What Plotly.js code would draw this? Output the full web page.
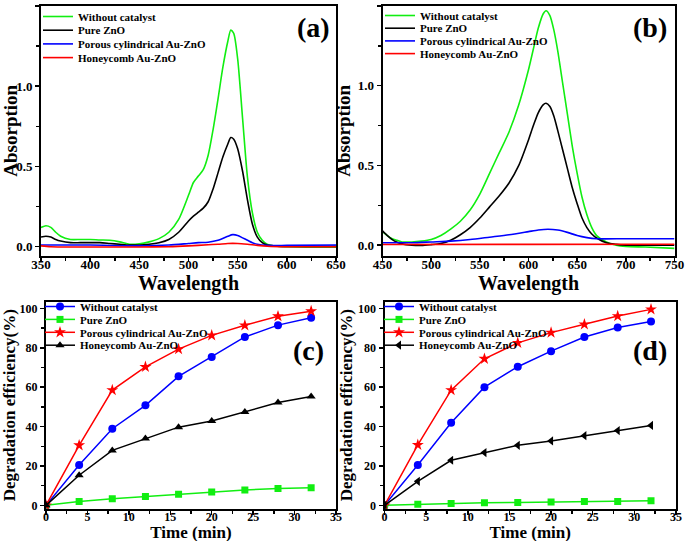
<!DOCTYPE html>
<html>
<head>
<meta charset="utf-8">
<script src="https://cdn.plot.ly/plotly-3.0.1.min.js"></script>
<style>html,body{margin:0;padding:0;background:#fff}#chart{width:685px;height:541px}</style>
</head>
<body>
<div id="chart"></div>
<script>
// ---------- Data ----------
const seriesNames = ["Without catalyst", "Pure ZnO", "Porous cylindrical Au-ZnO", "Honeycomb Au-ZnO"];

// Panel (a): absorption spectra
const wlA = [350,355,360,365,370,380,390,400,410,420,430,440,450,460,470,480,490,500,505,510,515,520,525,530,535,540,543,546,550,555,560,565,570,575,580,590,600,620,650];
const greenA = [0.12,0.13,0.12,0.09,0.065,0.045,0.045,0.045,0.042,0.04,0.03,0.015,0.018,0.03,0.05,0.09,0.17,0.32,0.40,0.44,0.48,0.57,0.73,0.92,1.12,1.28,1.35,1.33,1.17,0.80,0.43,0.21,0.09,0.04,0.015,0.003,0.0,-0.003,-0.003];
const blackA = [0.06,0.065,0.06,0.045,0.035,0.025,0.025,0.025,0.025,0.02,0.015,0.01,0.01,0.015,0.025,0.045,0.09,0.16,0.19,0.215,0.24,0.28,0.36,0.46,0.56,0.64,0.68,0.67,0.61,0.47,0.29,0.14,0.06,0.025,0.01,0.003,0.002,0.002,0.002];
const wlA2 = [350,400,450,480,500,510,520,530,540,545,550,555,560,565,570,580,600,650];
const blueA = [0.01,0.01,0.005,0.01,0.02,0.025,0.028,0.04,0.065,0.075,0.07,0.055,0.04,0.025,0.015,0.008,0.008,0.01];
const wlA3 = [350,360,400,450,480,500,520,530,540,550,560,570,580,600,650];
const redA = [0.005,0.0,-0.002,-0.002,0.0,0.005,0.012,0.015,0.02,0.02,0.015,0.008,0.003,0.0,0.0];

// Panel (b): absorption spectra
const wlB = [450,455,460,465,470,480,490,500,510,520,530,540,550,560,570,580,590,600,605,610,615,618,622,626,630,635,640,645,650,655,660,665,670,680,690,700,720,750];
const greenB = [0.085,0.06,0.04,0.03,0.02,0.02,0.025,0.035,0.06,0.10,0.15,0.22,0.32,0.45,0.58,0.71,0.88,1.10,1.23,1.36,1.45,1.47,1.44,1.35,1.22,1.02,0.82,0.62,0.45,0.30,0.19,0.11,0.06,0.02,0.0,-0.008,-0.012,-0.02];
const blackB = [0.09,0.06,0.035,0.018,0.008,0.0,-0.002,0.003,0.01,0.03,0.065,0.11,0.17,0.24,0.31,0.39,0.50,0.66,0.75,0.83,0.88,0.89,0.87,0.81,0.72,0.60,0.48,0.36,0.26,0.17,0.11,0.07,0.045,0.015,0.005,0.0,0.0,0.0];
const wlB2 = [450,480,500,520,540,560,580,600,610,620,630,640,650,660,670,700,750];
const blueB = [0.015,0.015,0.02,0.025,0.035,0.05,0.065,0.085,0.095,0.1,0.095,0.08,0.06,0.047,0.04,0.04,0.04];
const wlB3 = [450,600,750];
const redB = [0.004,0.005,0.006];

// Panels (c) and (d): degradation efficiency vs time
const timeMin = [0,4,8,12,16,20,24,28,32];
const blueC  = [0,20.5,38.9,50.8,65.5,75.3,85.5,91.5,95.2];
const greenC = [0,2.0,3.3,4.5,5.6,6.8,7.8,8.5,9.0];
const redC   = [0,30.5,58.5,70.3,79.3,86.3,91.4,96.0,98.6];
const blackC = [0,15.3,27.9,34.0,39.7,42.8,47.4,52.2,55.3];
const blueD  = [0,20.5,41.9,60.0,70.4,78.3,85.5,90.3,93.4];
const greenD = [0,0.5,1.0,1.3,1.5,1.7,1.9,2.0,2.3];
const redD   = [0,30.7,58.5,74.4,82.5,87.7,91.9,96.1,99.5];
const blackD = [0,12.2,22.9,26.8,30.5,32.7,35.4,38.0,40.6];

// ---------- Style ----------
const GREEN = '#11ee11', BLACK = '#000000', BLUE = '#0000ff', RED = '#ff0000';
const FONT = 'Liberation Serif, Times New Roman, serif';

function spec(x, y, name, color, xa, ya, lg) {
  return {x: x, y: y, name: name, type: 'scatter', mode: 'lines',
    line: {color: color, width: 1.6, shape: 'spline', smoothing: 0.7},
    xaxis: xa, yaxis: ya, legend: lg};
}
function deg(x, y, name, color, sym, msize, xa, ya, lg) {
  return {x: x, y: y, name: name, type: 'scatter', mode: 'lines+markers',
    line: {color: color, width: 1.5},
    marker: {color: color, symbol: sym, size: msize},
    xaxis: xa, yaxis: ya, legend: lg};
}

const data = [
  spec(wlA, greenA, seriesNames[0], GREEN, 'x', 'y', 'legend'),
  spec(wlA, blackA, seriesNames[1], BLACK, 'x', 'y', 'legend'),
  spec(wlA2, blueA, seriesNames[2], BLUE, 'x', 'y', 'legend'),
  spec(wlA3, redA, seriesNames[3], RED, 'x', 'y', 'legend'),
  spec(wlB, greenB, seriesNames[0], GREEN, 'x2', 'y2', 'legend2'),
  spec(wlB, blackB, seriesNames[1], BLACK, 'x2', 'y2', 'legend2'),
  spec(wlB2, blueB, seriesNames[2], BLUE, 'x2', 'y2', 'legend2'),
  spec(wlB3, redB, seriesNames[3], RED, 'x2', 'y2', 'legend2'),
  deg(timeMin, blueC, seriesNames[0], BLUE, 'circle', 8, 'x3', 'y3', 'legend3'),
  deg(timeMin, greenC, seriesNames[1], GREEN, 'square', 7, 'x3', 'y3', 'legend3'),
  deg(timeMin, redC, seriesNames[2], RED, 'star', 9, 'x3', 'y3', 'legend3'),
  deg(timeMin, blackC, seriesNames[3], BLACK, 'triangle-up', 8, 'x3', 'y3', 'legend3'),
  deg(timeMin, blueD, seriesNames[0], BLUE, 'circle', 8, 'x4', 'y4', 'legend4'),
  deg(timeMin, greenD, seriesNames[1], GREEN, 'square', 7, 'x4', 'y4', 'legend4'),
  deg(timeMin, redD, seriesNames[2], RED, 'star', 9, 'x4', 'y4', 'legend4'),
  deg(timeMin, blackD, seriesNames[3], BLACK, 'triangle-left', 8, 'x4', 'y4', 'legend4')
];

const W = 685, H = 541;
const px = v => v / W, py = v => 1 - v / H;

function axis(extra, fsize) {
  return Object.assign({
    showline: true, mirror: true, linewidth: 2, linecolor: 'black',
    ticks: 'outside', ticklen: 4, tickwidth: 1.5, tickcolor: 'black',
    showgrid: false, zeroline: false, automargin: false,
    tickfont: {family: FONT, size: fsize, weight: 'bold', color: 'black'},
  }, extra);
}
function atitle(t, s, so) { return {text: t, font: {family: FONT, size: s, weight: 'bold', color: 'black'}, standoff: so}; }

function legendAt(x, y) {
  return {x: x, y: y, xanchor: 'left', yanchor: 'top', bgcolor: 'rgba(0,0,0,0)',
    borderwidth: 0, font: {family: FONT, size: 11, weight: 'bold', color: 'black'},
    itemwidth: 30, tracegroupgap: 0};
}

const layout = {
  width: W, height: H,
  margin: {l: 0, r: 0, t: 0, b: 0},
  paper_bgcolor: 'white', plot_bgcolor: 'white',
  showlegend: true,
  xaxis: axis({domain: [px(41), px(336)], anchor: 'y', range: [350, 650], dtick: 50, tick0: 350, ticklabelstandoff: -8,
    minor: {ticks: 'outside', ticklen: 3, tickwidth: 1.5, dtick: 25, tickcolor: 'black'},
    title: atitle('Wavelength', 20, 0)}, 13),
  yaxis: axis({domain: [py(255.5), py(6)], anchor: 'x', range: [-0.055, 1.5], dtick: 0.5, tick0: 0, tickformat: '.1f',
    minor: {ticks: 'outside', ticklen: 3, tickwidth: 1.5, dtick: 0.25, tickcolor: 'black'},
    title: atitle('Absorption', 19, 2)}, 13),
  xaxis2: axis({domain: [px(382.5), px(674.5)], anchor: 'y2', range: [450, 750], dtick: 50, tick0: 450, ticklabelstandoff: -8,
    minor: {ticks: 'outside', ticklen: 3, tickwidth: 1.5, dtick: 25, tickcolor: 'black'},
    title: atitle('Wavelength', 20, 0)}, 13),
  yaxis2: axis({domain: [py(255.5), py(6)], anchor: 'x2', range: [-0.065, 1.5], dtick: 0.5, tick0: 0, tickformat: '.1f',
    minor: {ticks: 'outside', ticklen: 3, tickwidth: 1.5, dtick: 0.25, tickcolor: 'black'},
    title: atitle('Absorption', 19, 2)}, 13),
  xaxis3: axis({domain: [px(46), px(336)], anchor: 'y3', range: [0, 35], dtick: 5, tick0: 0, ticklabelstandoff: -8,
    minor: {ticks: 'outside', ticklen: 3, tickwidth: 1.5, dtick: 2.5, tickcolor: 'black'},
    title: atitle('Time (min)', 17, 0)}, 12),
  yaxis3: axis({domain: [py(508.7), py(301.7)], anchor: 'x3', range: [-1.7, 103.4], dtick: 20, tick0: 0,
    minor: {ticks: 'outside', ticklen: 3, tickwidth: 1.5, dtick: 10, tickcolor: 'black'},
    title: atitle('Degradation efficiency(%)', 17, 1)}, 12),
  xaxis4: axis({domain: [px(384.5), px(676)], anchor: 'y4', range: [0, 35], dtick: 5, tick0: 0, ticklabelstandoff: -8,
    minor: {ticks: 'outside', ticklen: 3, tickwidth: 1.5, dtick: 2.5, tickcolor: 'black'},
    title: atitle('Time (min)', 17, 0)}, 12),
  yaxis4: axis({domain: [py(508.7), py(301.7)], anchor: 'x4', range: [-1.7, 103.4], dtick: 20, tick0: 0,
    minor: {ticks: 'outside', ticklen: 3, tickwidth: 1.5, dtick: 10, tickcolor: 'black'},
    title: atitle('Degradation efficiency(%)', 17, 1)}, 12),
  legend: legendAt(px(38), py(2)),
  legend2: legendAt(px(380), py(1)),
  legend3: legendAt(px(40), py(292)),
  legend4: legendAt(px(379), py(292)),
  annotations: [
    ['(a)', 313, 28], ['(b)', 650, 28], ['(c)', 308, 350], ['(d)', 650, 350]
  ].map(a => ({text: a[0], x: px(a[1]), y: py(a[2]), xref: 'paper', yref: 'paper',
    xanchor: 'center', yanchor: 'middle', showarrow: false,
    font: {family: FONT, size: 28, weight: 'bold', color: 'black'}}))
};

// tighter legend rows, as in the reference figure
const legendRowGap = {legend: 13.7, legend2: 12.7, legend3: 12.9, legend4: 12.9};
// small vertical nudges of the x-axis titles (px)
const xTitleNudge = {xtitle: 0, x2title: 0, x3title: 1, x4title: 1};

Plotly.newPlot('chart', data, layout, {displayModeBar: false, staticPlot: true}).then(gd => {
  Object.keys(legendRowGap).forEach(id => {
    const lg = gd.querySelector('g.' + id);
    if (!lg) return;
    const items = lg.querySelectorAll('g.traces');
    let y0 = null;
    items.forEach((it, i) => {
      const m = /translate\(\s*([-\d.e]+)[ ,]+([-\d.e]+)\s*\)/.exec(it.getAttribute('transform') || '');
      if (!m) return;
      const x = parseFloat(m[1]), y = parseFloat(m[2]);
      if (y0 === null) y0 = y;
      it.setAttribute('transform', 'translate(' + x + ',' + (y0 + i * legendRowGap[id]) + ')');
    });
  });
  Object.keys(xTitleNudge).forEach(cls => {
    const t = gd.querySelector('text.' + cls);
    if (!t) return;
    const y = parseFloat(t.getAttribute('y'));
    if (!isNaN(y)) t.setAttribute('y', y + xTitleNudge[cls]);
  });
});
</script>
</body>
</html>
